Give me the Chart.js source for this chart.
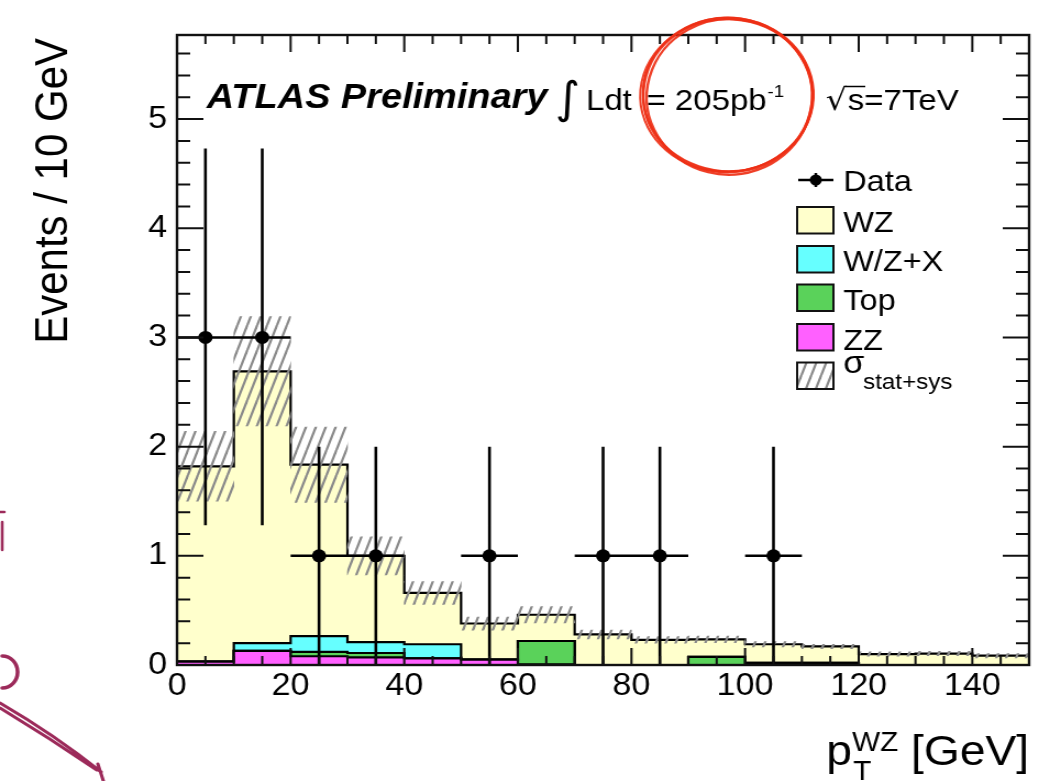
<!DOCTYPE html>
<html>
<head>
<meta charset="utf-8">
<title>WZ transverse momentum</title>
<script src="https://cdn.jsdelivr.net/npm/chart.js@4.4.1/dist/chart.umd.min.js"></script>
<style>
  html, body { margin: 0; padding: 0; background: #fff; }
  #plot { display: block; }
</style>
</head>
<body>
<!-- bitmap is drawn narrower and widened by css, like the slide it came from -->
<canvas id="plot" width="955" height="781" style="width:1050px;height:781px"></canvas>
<script>
// histogram binning [GeV]
const binWidth = 10;
const binEdges = [0, 10, 20, 30, 40, 50, 60, 70, 80, 90, 100, 110, 120, 130, 140, 150];
const binCentres = [5, 15, 25, 35, 45, 55, 65, 75, 85, 95, 105, 115, 125, 135, 145];

// expected events per bin, stacked bottom to top
const zzVals  = [0.03, 0.13, 0.08, 0.07, 0.06, 0.05, 0.005, 0, 0, 0, 0, 0, 0, 0, 0];
const topVals = [0, 0, 0.04, 0.04, 0, 0, 0.215, 0, 0, 0.075, 0.02, 0.02, 0, 0, 0];
const wzxVals = [0, 0.07, 0.145, 0.10, 0.13, 0, 0, 0, 0, 0, 0, 0, 0, 0, 0];
const wzVals  = [1.79, 2.49, 1.57, 0.79, 0.47, 0.33, 0.24, 0.28, 0.23, 0.16, 0.17, 0.15, 0.10, 0.105, 0.085];
// stat+sys uncertainty on the total expectation
const mcErr   = [0.32, 0.50, 0.345, 0.175, 0.105, 0.06, 0.075, 0.04, 0.03, 0.03, 0.025, 0.02, 0.02, 0.02, 0.02];

// observed events (empty bins not drawn)
const dataX       = [5, 15, 25, 35, 55, 75, 85, 105];
const dataY       = [3, 3, 1, 1, 1, 1, 1, 1];
const dataErrUp   = [1.73, 1.73, 1, 1, 1, 1, 1, 1];
const dataErrDown = [1.72, 1.72, 1, 1, 1, 1, 1, 1];

const xTickLabels = [0, 20, 40, 60, 80, 100, 120, 140];
const yTickLabels = [0, 1, 2, 3, 4, 5];

const colWZ = '#ffffcc';
const colWZX = '#66ffff';
const colTop = '#5ad25a';
const colZZ = '#ff60ff';
const FONT = '"Liberation Sans", Arial, Helvetica, sans-serif';

function makeHatch() {
    const w = 9, h = 25;
    const c = document.createElement('canvas');
    c.width = w;
    c.height = h;
    const g = c.getContext('2d');
    g.strokeStyle = '#8a8a8a';
    g.lineWidth = 2.2;
    for (const dx of [-w, 0, w]) {
        g.beginPath();
        g.moveTo(dx, h);
        g.lineTo(dx + w, 0);
        g.stroke();
    }
    return g.createPattern(c, 'repeat');
}
const hatch = makeHatch();

// one point per lower bin edge, last value repeated at the upper edge
function stepPoints(vals) {
    return binEdges.map((x, i) => ({ x: x, y: vals[Math.min(i, vals.length - 1)] }));
}

function histSet(label, vals, colour, fill) {
    return {
        label: label,
        data: stepPoints(vals),
        stack: 'mc',
        stepped: true,
        fill: fill,
        backgroundColor: colour,
        borderColor: '#000',
        borderWidth: 2.2,
        pointRadius: 0,
        order: 3
    };
}

const mcTotal = binCentres.map((_, i) => zzVals[i] + topVals[i] + wzxVals[i] + wzVals[i]);

// poisson bars plus bin width for the data points
const errorBars = {
    id: 'errorBars',
    beforeDatasetDraw(chart, args) {
        if (chart.data.datasets[args.index].label !== 'Data') return;
        const { ctx, scales: { x, y } } = chart;
        ctx.save();
        ctx.strokeStyle = '#000';
        ctx.lineWidth = 2.6;
        ctx.beginPath();
        dataX.forEach((cx, i) => {
            const px = x.getPixelForValue(cx);
            const py = y.getPixelForValue(dataY[i]);
            ctx.moveTo(x.getPixelForValue(cx - binWidth / 2), py);
            ctx.lineTo(x.getPixelForValue(cx + binWidth / 2), py);
            ctx.moveTo(px, y.getPixelForValue(dataY[i] - dataErrDown[i]));
            ctx.lineTo(px, y.getPixelForValue(dataY[i] + dataErrUp[i]));
        });
        ctx.stroke();
        ctx.restore();
    }
};

// closed frame with inward ticks on all four sides
const rootFrame = {
    id: 'rootFrame',
    afterDatasetsDraw(chart) {
        const { ctx, chartArea: a, scales: { x, y } } = chart;
        ctx.save();
        ctx.strokeStyle = '#111';
        ctx.lineWidth = 2;
        ctx.beginPath();
        for (let v = 0; v <= x.max; v += 5) {
            const px = x.getPixelForValue(v);
            const len = v % 20 === 0 ? 17 : 9;
            ctx.moveTo(px, a.bottom);
            ctx.lineTo(px, a.bottom - len);
            ctx.moveTo(px, a.top);
            ctx.lineTo(px, a.top + len);
        }
        for (let k = 0; k * 0.2 <= y.max; k++) {
            const py = y.getPixelForValue(k * 0.2);
            const len = k % 5 === 0 ? 24 : 12;
            ctx.moveTo(a.left, py);
            ctx.lineTo(a.left + len, py);
            ctx.moveTo(a.right, py);
            ctx.lineTo(a.right - len, py);
        }
        ctx.stroke();
        ctx.lineWidth = 2.4;
        ctx.strokeRect(a.left, a.top, a.right - a.left, a.bottom - a.top);
        ctx.restore();
    }
};

function legendBox(ctx, yTop, fillStyle) {
    ctx.fillStyle = fillStyle;
    ctx.fillRect(725, yTop, 33, 26.5);
    ctx.strokeStyle = '#111';
    ctx.lineWidth = 2;
    ctx.strokeRect(725, yTop, 33, 26.5);
}

const annotate = {
    id: 'annotate',
    afterDraw(chart) {
        const ctx = chart.ctx;
        ctx.save();
        ctx.fillStyle = '#000';
        ctx.textAlign = 'left';
        ctx.textBaseline = 'alphabetic';

        // header line
        ctx.font = 'italic bold 34.5px ' + FONT;
        ctx.fillText('ATLAS Preliminary', 188, 108);
        ctx.font = '44px "DejaVu Sans", sans-serif';
        ctx.fillText('\u222B', 505, 113);
        ctx.font = '30px ' + FONT;
        ctx.fillText('Ldt', 533, 110);
        ctx.fillText('= 205pb', 588, 110);
        ctx.font = '17px ' + FONT;
        ctx.fillText('-1', 698, 97);
        ctx.font = '30px "DejaVu Sans", sans-serif';
        ctx.fillText('\u221A', 751, 110);
        const rootW = ctx.measureText('\u221A').width;
        ctx.font = '30px ' + FONT;
        ctx.fillText('s=7TeV', 771, 110);
        ctx.strokeStyle = '#000';
        ctx.lineWidth = 1.5;
        ctx.beginPath();
        ctx.moveTo(751 + rootW - 1.5, 86.5);
        ctx.lineTo(787, 86.5);
        ctx.stroke();

        // legend
        ctx.lineWidth = 2.5;
        ctx.beginPath();
        ctx.moveTo(726, 180);
        ctx.lineTo(758, 180);
        ctx.moveTo(742, 173);
        ctx.lineTo(742, 187);
        ctx.stroke();
        ctx.beginPath();
        ctx.arc(742, 180, 5.5, 0, Math.PI * 2);
        ctx.fill();
        legendBox(ctx, 207, colWZ);
        legendBox(ctx, 246, colWZX);
        legendBox(ctx, 284.5, colTop);
        legendBox(ctx, 324, colZZ);
        ctx.fillStyle = '#fff';
        ctx.fillRect(725, 362.5, 33, 26.5);
        legendBox(ctx, 362.5, hatch);
        ctx.fillStyle = '#000';
        ctx.font = '29.5px ' + FONT;
        ctx.fillText('Data', 767, 191);
        ctx.fillText('WZ', 767, 232);
        ctx.fillText('W/Z+X', 767, 271);
        ctx.fillText('Top', 767, 310);
        ctx.fillText('ZZ', 767, 350);
        ctx.font = '31px ' + FONT;
        ctx.fillText('\u03C3', 767, 373);
        ctx.font = '22px ' + FONT;
        ctx.fillText('stat+sys', 785, 389);

        // axis titles
        ctx.font = '42px ' + FONT;
        ctx.textAlign = 'right';
        ctx.fillText(' [GeV]', 936, 765);
        const gevW = ctx.measureText(' [GeV]').width;
        ctx.font = '27px ' + FONT;
        const supW = ctx.measureText('WZ').width;
        ctx.fillText('WZ', 936 - gevW, 751);
        ctx.textAlign = 'left';
        ctx.fillText('T', 936 - gevW - supW + 1, 780);
        ctx.font = '42px ' + FONT;
        ctx.textAlign = 'right';
        ctx.fillText('p', 936 - gevW - supW, 765);

        ctx.save();
        ctx.translate(61, 38);
        ctx.rotate(-Math.PI / 2);
        ctx.textAlign = 'right';
        ctx.fillText('Events / 10 GeV', 0, 0);
        ctx.restore();

        // hand-drawn red ring around the luminosity
        ctx.strokeStyle = 'rgba(238, 48, 22, 0.92)';
        ctx.lineCap = 'round';
        const passes = [[0, 0, 0, 0, 2.8], [1.4, 1.8, -1.8, 0.1, 2.4], [-1.2, 0.6, 1.6, -0.08, 2], [0.5, -0.8, 0.8, 0.2, 1.6]];
        for (const [dx, dy, dr, rot, lw] of passes) {
            ctx.lineWidth = lw;
            ctx.beginPath();
            ctx.ellipse(662 + dx, 95 + dy, 77 + dr, 77 - dr * 0.5, rot, -2.2, 4.3);
            ctx.stroke();
        }

        // purple scribbles at the slide edge
        ctx.strokeStyle = '#9c2a5a';
        ctx.lineWidth = 3.5;
        ctx.beginPath();
        ctx.ellipse(2, 672, 14, 16, 0, -Math.PI / 2, Math.PI / 2);
        ctx.stroke();
        ctx.lineWidth = 2.5;
        ctx.beginPath();
        ctx.moveTo(0, 512);
        ctx.lineTo(4, 512);
        ctx.moveTo(2, 522);
        ctx.lineTo(2, 550);
        ctx.stroke();
        ctx.lineWidth = 3;
        ctx.beginPath();
        ctx.moveTo(0, 703);
        ctx.quadraticCurveTo(50, 735, 92, 772);
        ctx.moveTo(0, 708);
        ctx.quadraticCurveTo(45, 738, 88, 770);
        ctx.moveTo(89, 764);
        ctx.lineTo(94, 781);
        ctx.stroke();
        ctx.restore();
    }
};

Chart.defaults.color = '#000';
Chart.defaults.font.family = FONT;

new Chart(document.getElementById('plot'), {
    type: 'line',
    data: {
        datasets: [
            histSet('ZZ', zzVals, colZZ, 'origin'),
            histSet('Top', topVals, colTop, '-1'),
            histSet('W/Z+X', wzxVals, colWZX, '-1'),
            histSet('WZ', wzVals, colWZ, '-1'),
            {
                type: 'bar',
                label: 'sigma stat+sys',
                data: binCentres.map((x, i) => ({ x: x, y: [mcTotal[i] - mcErr[i], mcTotal[i] + mcErr[i]] })),
                stack: 'sys',
                backgroundColor: hatch,
                borderWidth: 0,
                barPercentage: 1,
                categoryPercentage: 1,
                order: 2
            },
            {
                label: 'Data',
                data: dataX.map((x, i) => ({ x: x, y: dataY[i] })),
                stack: 'data',
                showLine: false,
                pointRadius: 6.5,
                pointHoverRadius: 6.5,
                pointBackgroundColor: '#000',
                pointBorderWidth: 0,
                order: 1
            }
        ]
    },
    options: {
        responsive: false,
        devicePixelRatio: 1,
        animation: false,
        layout: { padding: { top: 35, right: 19, bottom: 0, left: 0 } },
        plugins: {
            legend: { display: false },
            tooltip: { enabled: false },
            title: { display: false }
        },
        scales: {
            x: {
                type: 'linear',
                min: 0,
                max: 150,
                offset: false,
                grid: { display: false, drawTicks: false },
                border: { display: false },
                ticks: {
                    stepSize: 20,
                    includeBounds: false,
                    autoSkip: false,
                    maxRotation: 0,
                    padding: 3,
                    font: { size: 31 },
                    callback: v => xTickLabels.includes(v) ? String(v) : ''
                },
                afterFit: s => { s.height = 116; }
            },
            y: {
                type: 'linear',
                min: 0,
                max: 5.77,
                stacked: true,
                grid: { display: false, drawTicks: false },
                border: { display: false },
                ticks: {
                    stepSize: 1,
                    includeBounds: false,
                    padding: 9,
                    font: { size: 31 },
                    callback: v => yTickLabels.includes(v) ? String(v) : ''
                },
                afterFit: s => { s.width = 161; }
            }
        }
    },
    plugins: [errorBars, rootFrame, annotate]
});
</script>
</body>
</html>
